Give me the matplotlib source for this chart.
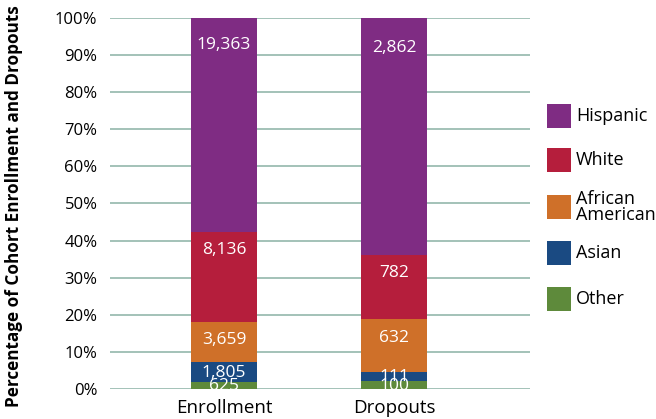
import matplotlib
matplotlib.use("Agg")
import matplotlib.pyplot as plt
from matplotlib.patches import Rectangle
import numpy as np

plt.rcParams['font.family'] = ['Open Sans', 'DejaVu Sans']

categories = ["Enrollment", "Dropouts"]
series_names = ["Other", "Asian", "African\nAmerican", "White", "Hispanic"]
other = [625, 100]
asian = [1805, 111]
african_american = [3659, 632]
white = [8136, 782]
hispanic = [19363, 2862]
colors = ["#5e8a3b", "#1a4a82", "#cf7029", "#b51e3c", "#7f2c83"]
ytick_labels = ["0%", "10%", "20%", "30%", "40%", "50%", "60%", "70%", "80%", "90%", "100%"]

values = np.array([other, asian, african_american, white, hispanic], dtype=float)
totals = values.sum(axis=0)
pct = values / totals * 100

fig = plt.figure(figsize=(6.56, 4.19), dpi=100)
ax = fig.add_axes([110/656, 1-389/419, 420/656, 371/419])

x = np.arange(len(categories))
bottom = np.zeros(len(categories))
for i, name in enumerate(series_names):
    ax.bar(x, pct[i], 0.39, bottom=bottom, color=colors[i], zorder=3, linewidth=0)
    for j in range(len(categories)):
        h = pct[i][j]
        top = bottom[j] + h
        off = min(max(5.0, 0.125 * h), h / 2 + 0.2)
        ax.text(x[j], top - off, f"{int(values[i][j]):,}", ha='center', va='center',
                color='white', fontsize=12.5, zorder=4, clip_on=True)
    bottom += pct[i]

ax.set_xlim(-0.67, 1.8)
ax.set_ylim(0, 100)
ax.set_yticks(np.arange(0, 101, 10))
ax.set_yticklabels(ytick_labels, fontsize=12)
ax.set_xticks(x)
ax.set_xticklabels(categories, fontsize=13.5)
ax.tick_params(axis='both', length=0)
ax.tick_params(axis='y', pad=9)
ax.tick_params(axis='x', pad=7)
ax.grid(axis='y', color='#93b8ab', linewidth=1.2, zorder=0)
for s in ax.spines.values():
    s.set_visible(False)

fig.text(14/656, 1-206/419, "Percentage of Cohort Enrollment and Dropouts", rotation=90,
         ha='center', va='center', fontsize=12.3, fontweight='bold')

# legend (manual)
leg_y = [299, 253, 207, 160, 116]
for i, name in enumerate(series_names):
    yc = leg_y[i]
    fig.add_artist(Rectangle((547/656, 1-(yc+12)/419), 24/656, 24/419,
                             transform=fig.transFigure, color=colors[i], linewidth=0))
    fig.text(576/656, 1-yc/419, name, ha='left', va='center', fontsize=13,
             linespacing=0.9)

fig.savefig("out.png", dpi=100)
